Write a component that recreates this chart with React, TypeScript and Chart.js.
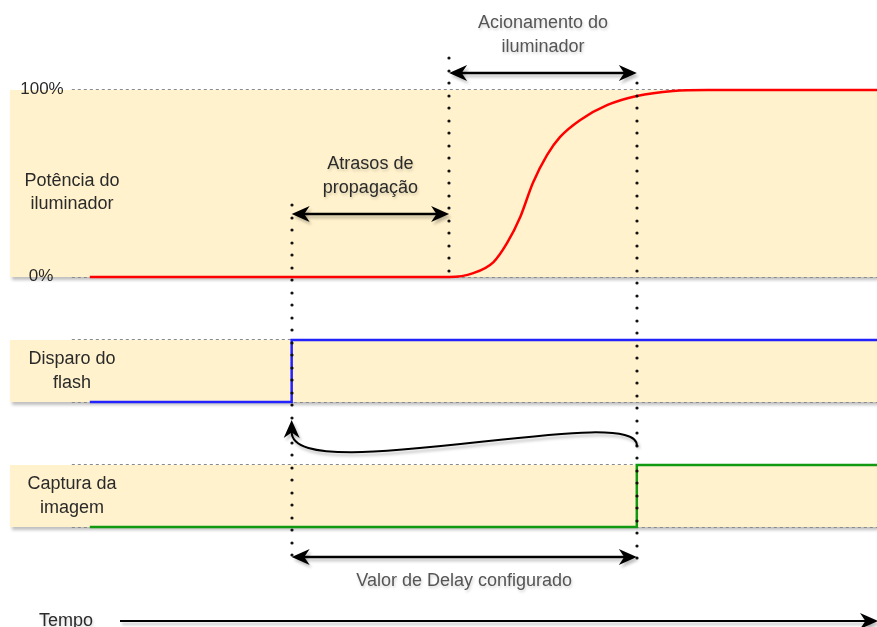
import React, { useEffect, useRef } from "react";
import { Chart, registerables } from "chart.js";

Chart.register(...registerables);

// ---- data (time in arbitrary units, levels in %) ----
const T_START = 0;
const T_END = 78;
const T_FLASH = 20; // flash trigger
const T_ILLUM = 35.6; // illuminator starts to turn on
const T_CAPTURE = 54.2; // image capture

const powerTimes = [0, 35.6, 38, 40, 41.35, 42.65, 43.9, 45.3, 46.6, 48.6, 51.3, 54.2, 57.8, 61.2, 78];
const powerLevels = [0, 0, 2.1, 8, 18.2, 32.1, 50.3, 65.2, 74.9, 84, 92, 96.8, 99.5, 100, 100];

const flashTimes = [T_START, T_FLASH, T_FLASH, T_END];
const flashLevels = [0, 0, 100, 100];

const captureTimes = [T_START, T_CAPTURE, T_CAPTURE, T_END];
const captureLevels = [0, 0, 100, 100];

const laneLabels = [["Potência do", "iluminador"], ["Disparo do", "flash"], ["Captura da", "imagem"]];
const powerTickLabels = ["100%", "0%"];

// ---- layout (not data) ----
const W = 877;
const H = 627;
const LANES = [
  { top: 90, bottom: 277 },
  { top: 340, bottom: 402 },
  { top: 465, bottom: 527 },
];
const FONT = '"Liberation Sans", Arial, Helvetica, sans-serif';

function laneY(lane: number, level: number) {
  const l = LANES[lane];
  return l.bottom - (level / 100) * (l.bottom - l.top);
}

function toPoints(times: number[], levels: number[], lane: number) {
  return times.map((t, i) => ({ x: t, y: laneY(lane, levels[i]) }));
}

function arrowHead(ctx: CanvasRenderingContext2D, x: number, y: number, angle: number, L = 18, Wd = 8) {
  ctx.save();
  ctx.translate(x, y);
  ctx.rotate(angle);
  ctx.beginPath();
  ctx.moveTo(0, 0);
  ctx.lineTo(-L, -Wd);
  ctx.lineTo(-L * 0.7, 0);
  ctx.lineTo(-L, Wd);
  ctx.closePath();
  ctx.fill();
  ctx.restore();
}

function setShadow(ctx: CanvasRenderingContext2D, on: boolean) {
  if (on) {
    ctx.shadowColor = "rgba(0,0,0,0.25)";
    ctx.shadowBlur = 3;
    ctx.shadowOffsetX = 2;
    ctx.shadowOffsetY = 3;
  } else {
    ctx.shadowColor = "rgba(0,0,0,0)";
    ctx.shadowBlur = 0;
    ctx.shadowOffsetX = 0;
    ctx.shadowOffsetY = 0;
  }
}

function doubleArrow(ctx: CanvasRenderingContext2D, x1: number, x2: number, y: number) {
  ctx.save();
  setShadow(ctx, true);
  ctx.strokeStyle = "#000";
  ctx.fillStyle = "#000";
  ctx.lineWidth = 2.5;
  ctx.beginPath();
  ctx.moveTo(x1 + 11, y);
  ctx.lineTo(x2 - 11, y);
  ctx.stroke();
  arrowHead(ctx, x1, y, Math.PI);
  arrowHead(ctx, x2, y, 0);
  ctx.restore();
}

function dottedV(ctx: CanvasRenderingContext2D, xRaw: number, y1: number, y2: number) {
  const x = Math.round(xRaw);
  ctx.save();
  ctx.fillStyle = "#111";
  for (let y = y1; y <= y2; y += 12.5) {
    ctx.beginPath();
    ctx.arc(x, Math.round(y), 1.6, 0, Math.PI * 2);
    ctx.fill();
  }
  ctx.restore();
}

function text(ctx: CanvasRenderingContext2D, s: string, x: number, y: number, color = "#2a2a2a", size = 18) {
  ctx.save();
  ctx.font = `${size}px ${FONT}`;
  ctx.fillStyle = color;
  ctx.textAlign = "center";
  ctx.textBaseline = "middle";
  ctx.fillText(s, x, y);
  ctx.restore();
}

const diagramPlugin = {
  id: "diagram",
  beforeDatasetsDraw(chart: any) {
    const ctx: CanvasRenderingContext2D = chart.ctx;
    const xs = chart.scales.x;
    const x0 = xs.getPixelForValue(T_START);
    // lanes
    LANES.forEach((l) => {
      ctx.save();
      setShadow(ctx, true);
      ctx.fillStyle = "#FFF2CC";
      ctx.fillRect(10, l.top, W - 10, l.bottom - l.top);
      ctx.restore();
      ctx.save();
      ctx.strokeStyle = "#8a8a8a";
      ctx.lineWidth = 1;
      ctx.setLineDash([3, 3]);
      ctx.beginPath();
      ctx.moveTo(x0 - 18, l.top - 0.5);
      ctx.lineTo(W, l.top - 0.5);
      ctx.moveTo(x0 - 18, l.bottom + 0.5);
      ctx.lineTo(W, l.bottom + 0.5);
      ctx.stroke();
      ctx.restore();
    });
    // labels
    text(ctx, powerTickLabels[0], 42, LANES[0].top - 1, "#2a2a2a", 17);
    text(ctx, powerTickLabels[1], 41, LANES[0].bottom - 1, "#2a2a2a", 17);
    text(ctx, laneLabels[0][0], 72, 181);
    text(ctx, laneLabels[0][1], 72, 204);
    text(ctx, laneLabels[1][0], 72, 359);
    text(ctx, laneLabels[1][1], 72, 383);
    text(ctx, laneLabels[2][0], 72, 484);
    text(ctx, laneLabels[2][1], 72, 508);
  },
  afterDatasetsDraw(chart: any) {
    const ctx: CanvasRenderingContext2D = chart.ctx;
    const xs = chart.scales.x;
    const xf = xs.getPixelForValue(T_FLASH);
    const xi = xs.getPixelForValue(T_ILLUM);
    const xc = xs.getPixelForValue(T_CAPTURE);

    dottedV(ctx, xf, 205, 562);
    dottedV(ctx, xi, 58, 282);
    dottedV(ctx, xc, 83, 562);

    doubleArrow(ctx, xi, xc, 73);
    doubleArrow(ctx, xf, xi, 214);
    doubleArrow(ctx, xf, xc, 557);

    // curved arrow from capture back to flash
    ctx.save();
    setShadow(ctx, true);
    ctx.strokeStyle = "#000";
    ctx.fillStyle = "#000";
    ctx.lineWidth = 2;
    ctx.beginPath();
    ctx.moveTo(xc, 446);
    ctx.bezierCurveTo(xc + 4, 400, xf, 490, xf, 432);
    ctx.stroke();
    arrowHead(ctx, xf, 420, -Math.PI / 2, 18, 8);
    ctx.restore();

    // time axis arrow
    ctx.save();
    setShadow(ctx, true);
    ctx.strokeStyle = "#000";
    ctx.fillStyle = "#000";
    ctx.lineWidth = 2;
    ctx.beginPath();
    ctx.moveTo(120, 621);
    ctx.lineTo(W - 8, 621);
    ctx.stroke();
    arrowHead(ctx, W + 1, 621, 0);
    ctx.restore();

    // annotation texts
    ctx.save();
    setShadow(ctx, true);
    ctx.shadowOffsetX = 1;
    ctx.shadowOffsetY = 2;
    ctx.shadowColor = "rgba(0,0,0,0.18)";
    text(ctx, "Acionamento do", (xi + xc) / 2, 23, "#555");
    text(ctx, "iluminador", (xi + xc) / 2, 47, "#555");
    text(ctx, "Atrasos de", (xf + xi) / 2, 164);
    text(ctx, "propagação", (xf + xi) / 2, 188);
    text(ctx, "Valor de Delay configurado", (xf + xc) / 2, 581, "#555");
    text(ctx, "Tempo", 66, 621);
    ctx.restore();
  },
};

export default function App() {
  const ref = useRef<HTMLCanvasElement | null>(null);
  useEffect(() => {
    if (!ref.current) return;
    const chart = new Chart(ref.current, {
      type: "line",
      data: {
        datasets: [
          {
            label: "Potência do iluminador",
            data: toPoints(powerTimes, powerLevels, 0),
            borderColor: "#FF0000",
            borderWidth: 2.5,
            pointRadius: 0,
            cubicInterpolationMode: "monotone",
          },
          {
            label: "Disparo do flash",
            data: toPoints(flashTimes, flashLevels, 1),
            borderColor: "#2222FF",
            borderWidth: 2.5,
            pointRadius: 0,
            tension: 0,
          },
          {
            label: "Captura da imagem",
            data: toPoints(captureTimes, captureLevels, 2),
            borderColor: "#119911",
            borderWidth: 2.5,
            pointRadius: 0,
            tension: 0,
          },
        ],
      },
      options: {
        animation: false,
        responsive: false,
        devicePixelRatio: 1,
        layout: { padding: 0 },
        scales: {
          x: { type: "linear", min: -8.9, max: T_END, display: false },
          y: { type: "linear", min: 0, max: H, reverse: true, display: false },
        },
        plugins: { legend: { display: false }, tooltip: { enabled: false } },
        events: [],
      } as any,
      plugins: [diagramPlugin],
    });
    return () => chart.destroy();
  }, []);
  return (
    <div style={{ position: "fixed", left: 0, top: 0, width: W, height: H, background: "#fff" }}>
      <canvas ref={ref} width={W} height={H} style={{ width: W, height: H, display: "block" }} />
    </div>
  );
}
